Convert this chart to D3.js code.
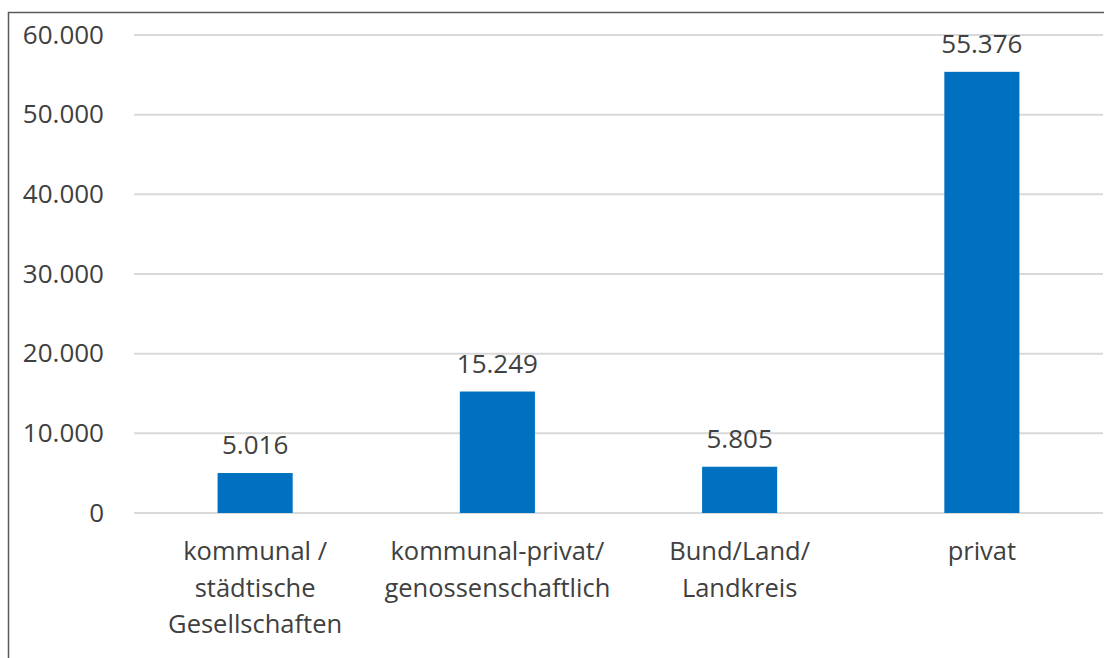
<!DOCTYPE html>
<html>
<head>
<meta charset="utf-8">
<script src="https://cdn.jsdelivr.net/npm/d3@7"></script>
<style>
  body { margin: 0; background: #fff; }
  text { font-family: 'Open Sans', 'Noto Sans', sans-serif; fill: #404040; }
</style>
</head>
<body>
<div id="chart-area"></div>
<script>
const width = 1104;
const height = 658;

// Data
const categories = [
    ['kommunal /', 'städtische', 'Gesellschaften'],
    ['kommunal-privat/', 'genossenschaftlich'],
    ['Bund/Land/', 'Landkreis'],
    ['privat']
];
const values = [5016, 15249, 5805, 55376];
const yTicks = [0, 10000, 20000, 30000, 40000, 50000, 60000];

const fmt = d3.formatLocale({ decimal: ',', thousands: '.', grouping: [3], currency: ['', ' €'] }).format(',.0f');

const svg = d3.select('#chart-area')
    .append('svg')
    .attr('width', width)
    .attr('height', height);

// Frame
svg.append('rect')
    .attr('x', 8.5)
    .attr('y', 12.5)
    .attr('width', width + 10)
    .attr('height', height + 10)
    .attr('fill', 'none')
    .attr('stroke', '#595959')
    .attr('stroke-width', 1.5);

// Scales
const x = d3.scaleBand()
    .domain(d3.range(categories.length))
    .range([134, 1103])
    .paddingInner(0.69)
    .paddingOuter(0.345);

const y = d3.scaleLinear()
    .domain([0, 60000])
    .range([513, 35]);

// Grid
svg.append('g')
    .selectAll('line')
    .data(yTicks)
    .join('line')
    .attr('x1', 134)
    .attr('x2', 1103)
    .attr('y1', (d) => y(d))
    .attr('y2', (d) => y(d))
    .attr('stroke', '#d9d9d9')
    .attr('stroke-width', 2);

// Y axis labels
const yAxis = d3.axisLeft(y)
    .tickValues(yTicks)
    .tickFormat(fmt)
    .tickSize(0)
    .tickPadding(0);

const yAxisGroup = svg.append('g')
    .attr('transform', 'translate(104, 0)')
    .call(yAxis);
yAxisGroup.select('.domain').remove();
yAxisGroup.selectAll('text')
    .attr('font-size', '26px')
    .attr('font-family', null)
    .attr('fill', null);

// Bars
svg.append('g')
    .selectAll('rect')
    .data(values)
    .join('rect')
    .attr('x', (d, i) => x(i))
    .attr('width', x.bandwidth())
    .attr('y', (d) => y(d))
    .attr('height', (d) => y(0) - y(d))
    .attr('fill', '#0070c0');

// Value labels
svg.append('g')
    .selectAll('text')
    .data(values)
    .join('text')
    .attr('x', (d, i) => x(i) + x.bandwidth() / 2)
    .attr('y', (d) => y(d) - 19)
    .attr('text-anchor', 'middle')
    .attr('font-size', '26px')
    .text(fmt);

// X axis labels
const xLabels = svg.append('g')
    .selectAll('text')
    .data(categories)
    .join('text')
    .attr('x', (d, i) => x(i) + x.bandwidth() / 2)
    .attr('y', 560)
    .attr('text-anchor', 'middle')
    .attr('font-size', '25.5px');

xLabels.selectAll('tspan')
    .data((d) => d)
    .join('tspan')
    .attr('x', function () { return this.parentNode.getAttribute('x'); })
    .attr('dy', (d, i) => (i === 0 ? 0 : 36.5))
    .text((d) => d);
</script>
</body>
</html>
